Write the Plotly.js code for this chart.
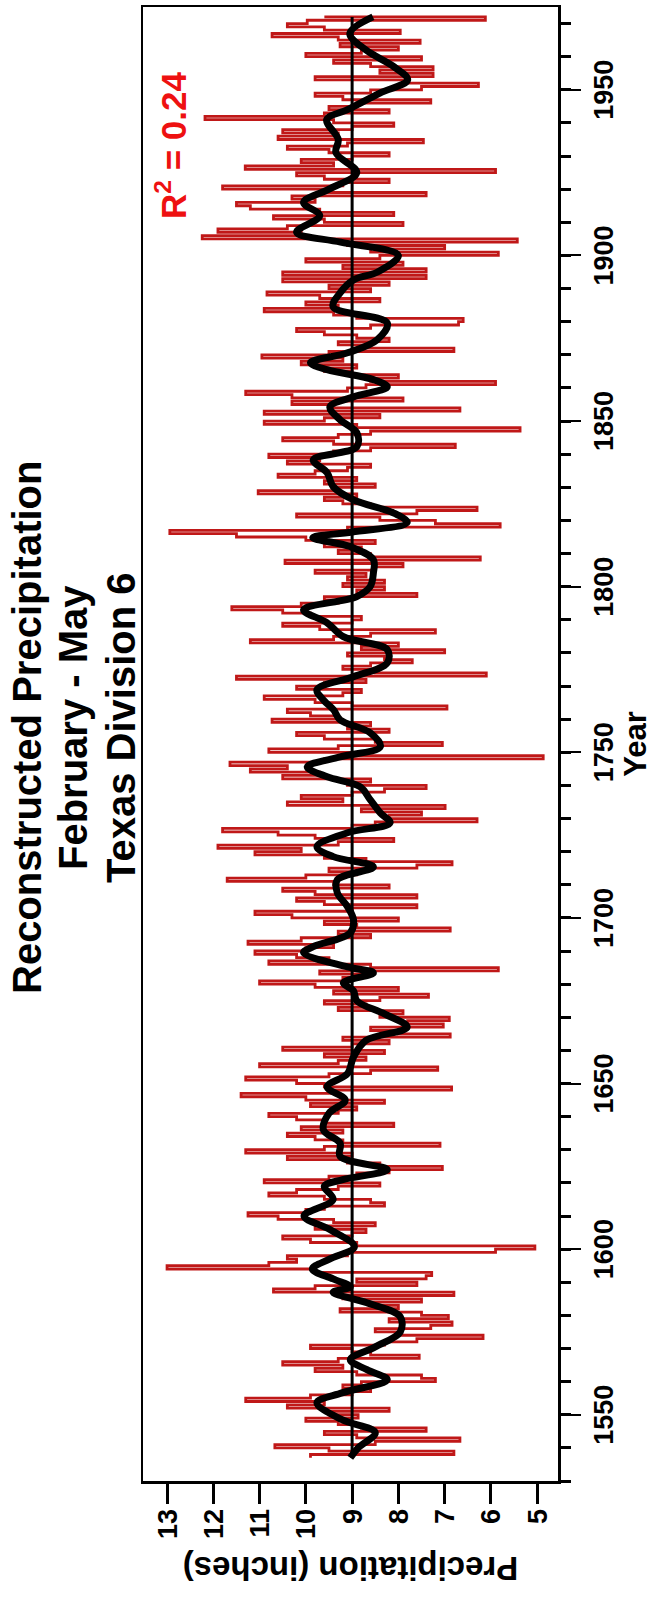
<!DOCTYPE html>
<html>
<head>
<meta charset="utf-8">
<script src="https://cdn.plot.ly/plotly-3.0.1.min.js"></script>
<style>
  html, body { margin:0; padding:0; background:#fff; overflow:hidden; }
  #wrap { position:relative; width:653px; height:1600px; overflow:hidden; }
  #chart { position:absolute; left:0; top:0; width:1600px; height:653px;
           transform-origin:0 0; transform:translateY(1600px) rotate(-90deg); }
</style>
</head>
<body>
<div id="wrap"><div id="chart"></div></div>
<script>
// ---- data ----
const firstYear = 1537;
const precip = [
  9.9, 6.8, 9.5,
  10.67, 8.5, 6.67, 8.9, 9.6, 7.4, 8.8, 9.3, 10.0, 8.87,
  9.5, 8.2, 10.4, 9.6, 11.3, 9.9, 9.0, 8.6, 9.2, 8.8,
  7.2, 7.5, 8.9, 9.8, 9.2, 10.5, 9.3, 7.55, 8.6, 9.0,
  9.9, 8.3, 7.6, 6.17, 8.0, 8.5, 7.3, 6.84, 8.2, 6.92,
  7.5, 9.26, 8.0, 8.6, 7.5, 9.2, 6.8, 10.7, 9.8, 7.6,
  8.9, 7.4, 7.28, 9.8, 13.0, 10.8, 10.2, 10.4, 9.1, 5.9,
  5.05, 8.9, 9.9, 10.5, 9.0, 8.7, 9.8, 8.5, 9.4, 10.6,
  11.25, 10.0, 9.6, 8.3, 8.6, 9.6, 10.8, 10.2, 9.3, 8.4,
  10.9, 9.5, 8.9, 8.2, 7.05, 8.4, 9.1, 10.4, 9.0, 11.3,
  9.6, 7.1, 9.2, 9.8, 10.4, 9.2, 10.1, 8.1, 9.6, 10.2,
  10.8, 9.3, 8.9, 9.9, 8.3, 10.0, 11.4, 9.4, 6.85, 9.6,
  10.2, 11.3, 9.5, 8.6, 7.15, 11.0, 9.3, 8.7, 9.6, 8.3,
  10.5, 9.0, 8.2, 9.2, 6.88, 8.0, 8.6, 7.03, 7.8, 6.9,
  8.4, 7.9, 9.3, 8.7, 9.6, 8.4, 7.35, 9.4, 8.0, 9.8,
  11.0, 9.2, 8.8, 9.7, 5.84, 8.6, 10.8, 9.5, 10.2, 11.1,
  10.0, 9.4, 11.25, 10.1, 8.6, 9.3, 6.88, 8.9, 9.6, 8.0,
  10.3, 11.1, 9.0, 7.6, 9.6, 10.2, 7.6, 9.8, 10.5, 8.2,
  9.4, 11.7, 10.0, 8.9, 9.5, 7.6, 6.84, 8.7, 9.6, 11.1,
  10.1, 11.9, 9.3, 8.1, 9.8, 10.6, 11.8, 9.0, 8.5, 6.3,
  8.2, 7.5, 8.8, 6.99, 10.4, 9.2, 10.1, 9.0, 8.3, 7.4,
  9.1, 8.6, 10.5, 9.7, 11.2, 10.4, 11.64, 9.6, 4.87, 9.0,
  10.8, 9.3, 7.05, 8.5, 9.6, 10.2, 8.2, 9.1, 8.6, 10.73,
  9.3, 9.9, 10.4, 6.95, 9.0, 9.8, 10.9, 9.2, 8.8, 10.2,
  9.6, 8.7, 11.5, 6.1, 8.5, 9.2, 8.6, 7.7, 8.3, 9.1,
  7.0, 8.8, 8.0, 11.2, 9.4, 8.6, 7.2, 9.7, 10.5, 9.0,
  8.8, 9.9, 10.5, 11.6, 10.1, 9.3, 9.6, 7.6, 8.9, 8.3,
  9.2, 8.3, 9.1, 8.7, 9.8, 8.5, 7.9, 10.45, 6.23, 8.6,
  9.3, 8.8, 9.6, 8.5, 10.0, 11.5, 12.94, 9.1, 5.8, 7.2,
  8.4, 10.2, 7.6, 6.3, 8.6, 9.2, 9.6, 8.9, 11.03, 9.4,
  8.5, 9.6, 8.9, 10.6, 9.8, 9.1, 8.6, 10.4, 9.7, 10.8,
  9.4, 8.6, 6.77, 9.4, 10.5, 9.3, 8.6, 5.37, 8.9, 10.9,
  9.6, 8.4, 10.9, 6.67, 9.5, 10.3, 7.9, 10.3, 11.3, 9.1,
  8.7, 5.9, 8.6, 8.0, 9.0, 9.6, 8.9, 10.1, 9.2, 10.95,
  9.5, 6.8, 8.7, 9.3, 8.2, 8.9, 9.6, 10.2, 8.6, 6.7,
  6.6, 8.9, 9.4, 10.9, 9.3, 10.0, 8.4, 9.7, 10.84, 8.6,
  9.5, 8.2, 10.5, 7.4, 10.5, 7.4, 9.2, 7.9, 10.0, 8.4,
  5.84, 8.6, 7.0, 9.1, 5.43, 12.24, 10.1, 11.9, 10.4, 7.9,
  9.6, 10.7, 8.1, 9.7, 11.2, 11.5, 9.8, 10.3, 7.4, 9.6,
  11.8, 9.2, 8.2, 9.6, 10.2, 5.9, 11.31, 9.4, 10.1, 9.0,
  8.2, 9.5, 10.4, 9.1, 7.46, 10.6, 9.3, 10.5, 9.0, 8.1,
  9.4, 12.18, 9.6, 8.2, 9.5, 8.9, 7.3, 9.2, 9.8, 8.6,
  7.5, 6.27, 7.8, 9.8, 7.25, 8.4, 7.25, 8.6, 9.4, 7.5,
  10.0, 8.8, 8.0, 9.26, 7.53, 9.3, 10.73, 7.96, 9.6, 10.4,
  9.97, 6.12, 9.6
];
const years = precip.map((_, i) => firstYear + i);

const smoothYears = [1537,1540,1544.6,1548.5,1553.6,1556.6,1560.6,1563.6,1566.6,1570.5,1575,1579.6,1583.8,1587,1588.6,1591,1594,1597,1600.7,1606,1610,1615,1619,1621,1624,1628,1632,1636,1641,1645,1649,1653,1658,1663,1667,1671,1675,1678,1680.4,1683.4,1685.2,1689.5,1691.3,1695.5,1699.4,1703.4,1707.6,1711.5,1715.4,1718.5,1721.5,1725.7,1728.7,1731.7,1735.7,1739.6,1742.6,1745.6,1748.6,1751.7,1755.9,1759.8,1762.8,1765.5,1768.9,1772.8,1777,1781,1784.9,1789.1,1793,1797,1800,1804.2,1808.1,1812.1,1814.8,1816.5,1819.4,1822.3,1826.2,1830.2,1834.4,1838.3,1842.2,1846.5,1850.4,1854.3,1857.3,1860.3,1862.5,1865.5,1867.6,1870.6,1874.5,1879.6,1884.5,1888.7,1892.6,1895,1900,1904,1907,1912,1916,1920,1925,1931,1935,1941,1944,1949,1953,1957,1962,1967,1972];
const smoothValues = [9.04,8.87,8.5,9.22,9.76,9.22,8.24,8.68,9.04,8.5,7.96,7.96,8.68,9.41,9.04,9.41,9.86,9.49,8.95,9.49,10.04,9.41,9.6,9.2,8.24,9.26,9.26,9.62,9.5,9.15,9.54,9.1,8.97,8.7,7.81,8.3,8.9,8.97,9.19,8.54,9.1,10.05,9.84,9.04,8.97,9.1,9.32,9.32,8.54,9.41,9.76,9.1,8.18,8.39,8.61,8.83,9.54,9.97,9.26,8.39,8.61,9.26,9.4,9.6,9.76,8.97,8.24,8.24,9.19,9.54,10.05,8.9,8.61,8.54,8.54,9.04,9.85,9.0,7.81,8.11,8.97,9.41,9.54,9.84,8.9,8.9,9.26,9.48,8.97,8.24,8.54,9.54,9.9,9.1,8.46,8.24,9.41,9.26,8.97,8.45,8.0,9.25,10.2,9.7,10.05,9.5,8.9,9.35,9.3,9.55,9.1,8.4,7.8,8.1,8.7,9.05,8.55];

const meanValue = 9;
const yearTicks = [1550, 1600, 1650, 1700, 1750, 1800, 1850, 1900, 1950];
const precipTicks = [5, 6, 7, 8, 9, 10, 11, 12, 13];
const titleLines = ['Reconstructed Precipitation', 'February - May', 'Texas Division 6'];
const r2Text = 'R<sup>2</sup> = 0.24';

// ---- chart ----
const FONT = 'Liberation Sans, Arial, Helvetica, sans-serif';

const traces = [
  { x: years, y: precip, type: 'scatter', mode: 'lines',
    line: { color: '#c01818', width: 2.8, shape: 'hv' }, hoverinfo: 'x+y' },
  { x: [years[0], years[years.length - 1]], y: [meanValue, meanValue],
    type: 'scatter', mode: 'lines', line: { color: '#000', width: 3 }, hoverinfo: 'skip' },
  { x: smoothYears, y: smoothValues, type: 'scatter', mode: 'lines',
    line: { color: '#000', width: 7, shape: 'spline', smoothing: 1 }, hoverinfo: 'skip' }
];

const titleY = [1.2795, 1.1687, 1.053];
const annotations = titleLines.map((t, i) => ({
  text: t, xref: 'paper', yref: 'paper', x: 0.511, y: titleY[i],
  xanchor: 'center', yanchor: 'middle', showarrow: false,
  font: { family: FONT, size: 40, weight: 'bold', color: '#000' }
}));
annotations.push({
  text: r2Text, xref: 'paper', yref: 'paper', x: 0.906, y: 0.9325,
  xanchor: 'center', yanchor: 'middle', showarrow: false,
  font: { family: FONT, size: 35, weight: 'bold', color: '#ee1111' }
});

const layout = {
  width: 1600, height: 653,
  margin: { l: 119, r: 7, t: 143, b: 95 },
  paper_bgcolor: '#fff', plot_bgcolor: '#fff',
  showlegend: false,
  font: { family: FONT, color: '#000' },
  xaxis: {
    range: [1530, 1975], tickvals: yearTicks, ticktext: yearTicks.map(String),
    ticks: 'outside', ticklen: 20, tickwidth: 2, tickcolor: '#000',
    showline: true, mirror: true, linewidth: 2.5, linecolor: '#000',
    showgrid: false, zeroline: false,
    tickfont: { family: FONT, size: 27, weight: 'bold' },
    minor: { dtick: 10, tick0: 1550, ticks: 'outside', ticklen: 10, tickwidth: 3, tickcolor: '#000', showgrid: false },
    title: { text: 'Year', font: { family: FONT, size: 31, weight: 'bold' }, standoff: 2 }
  },
  yaxis: {
    range: [4.55, 13.52], tickvals: precipTicks, ticktext: precipTicks.map(String),
    ticks: 'outside', ticklen: 20, tickwidth: 3, tickcolor: '#000',
    showline: true, mirror: true, linewidth: 2.5, linecolor: '#000',
    showgrid: false, zeroline: false,
    tickfont: { family: FONT, size: 27, weight: 'bold' },
    title: { text: 'Precipitation (inches)', font: { family: FONT, size: 33, weight: 'bold' }, standoff: 8 }
  },
  annotations: annotations
};

Plotly.newPlot('chart', traces, layout, { staticPlot: true, displayModeBar: false });
</script>
</body>
</html>
